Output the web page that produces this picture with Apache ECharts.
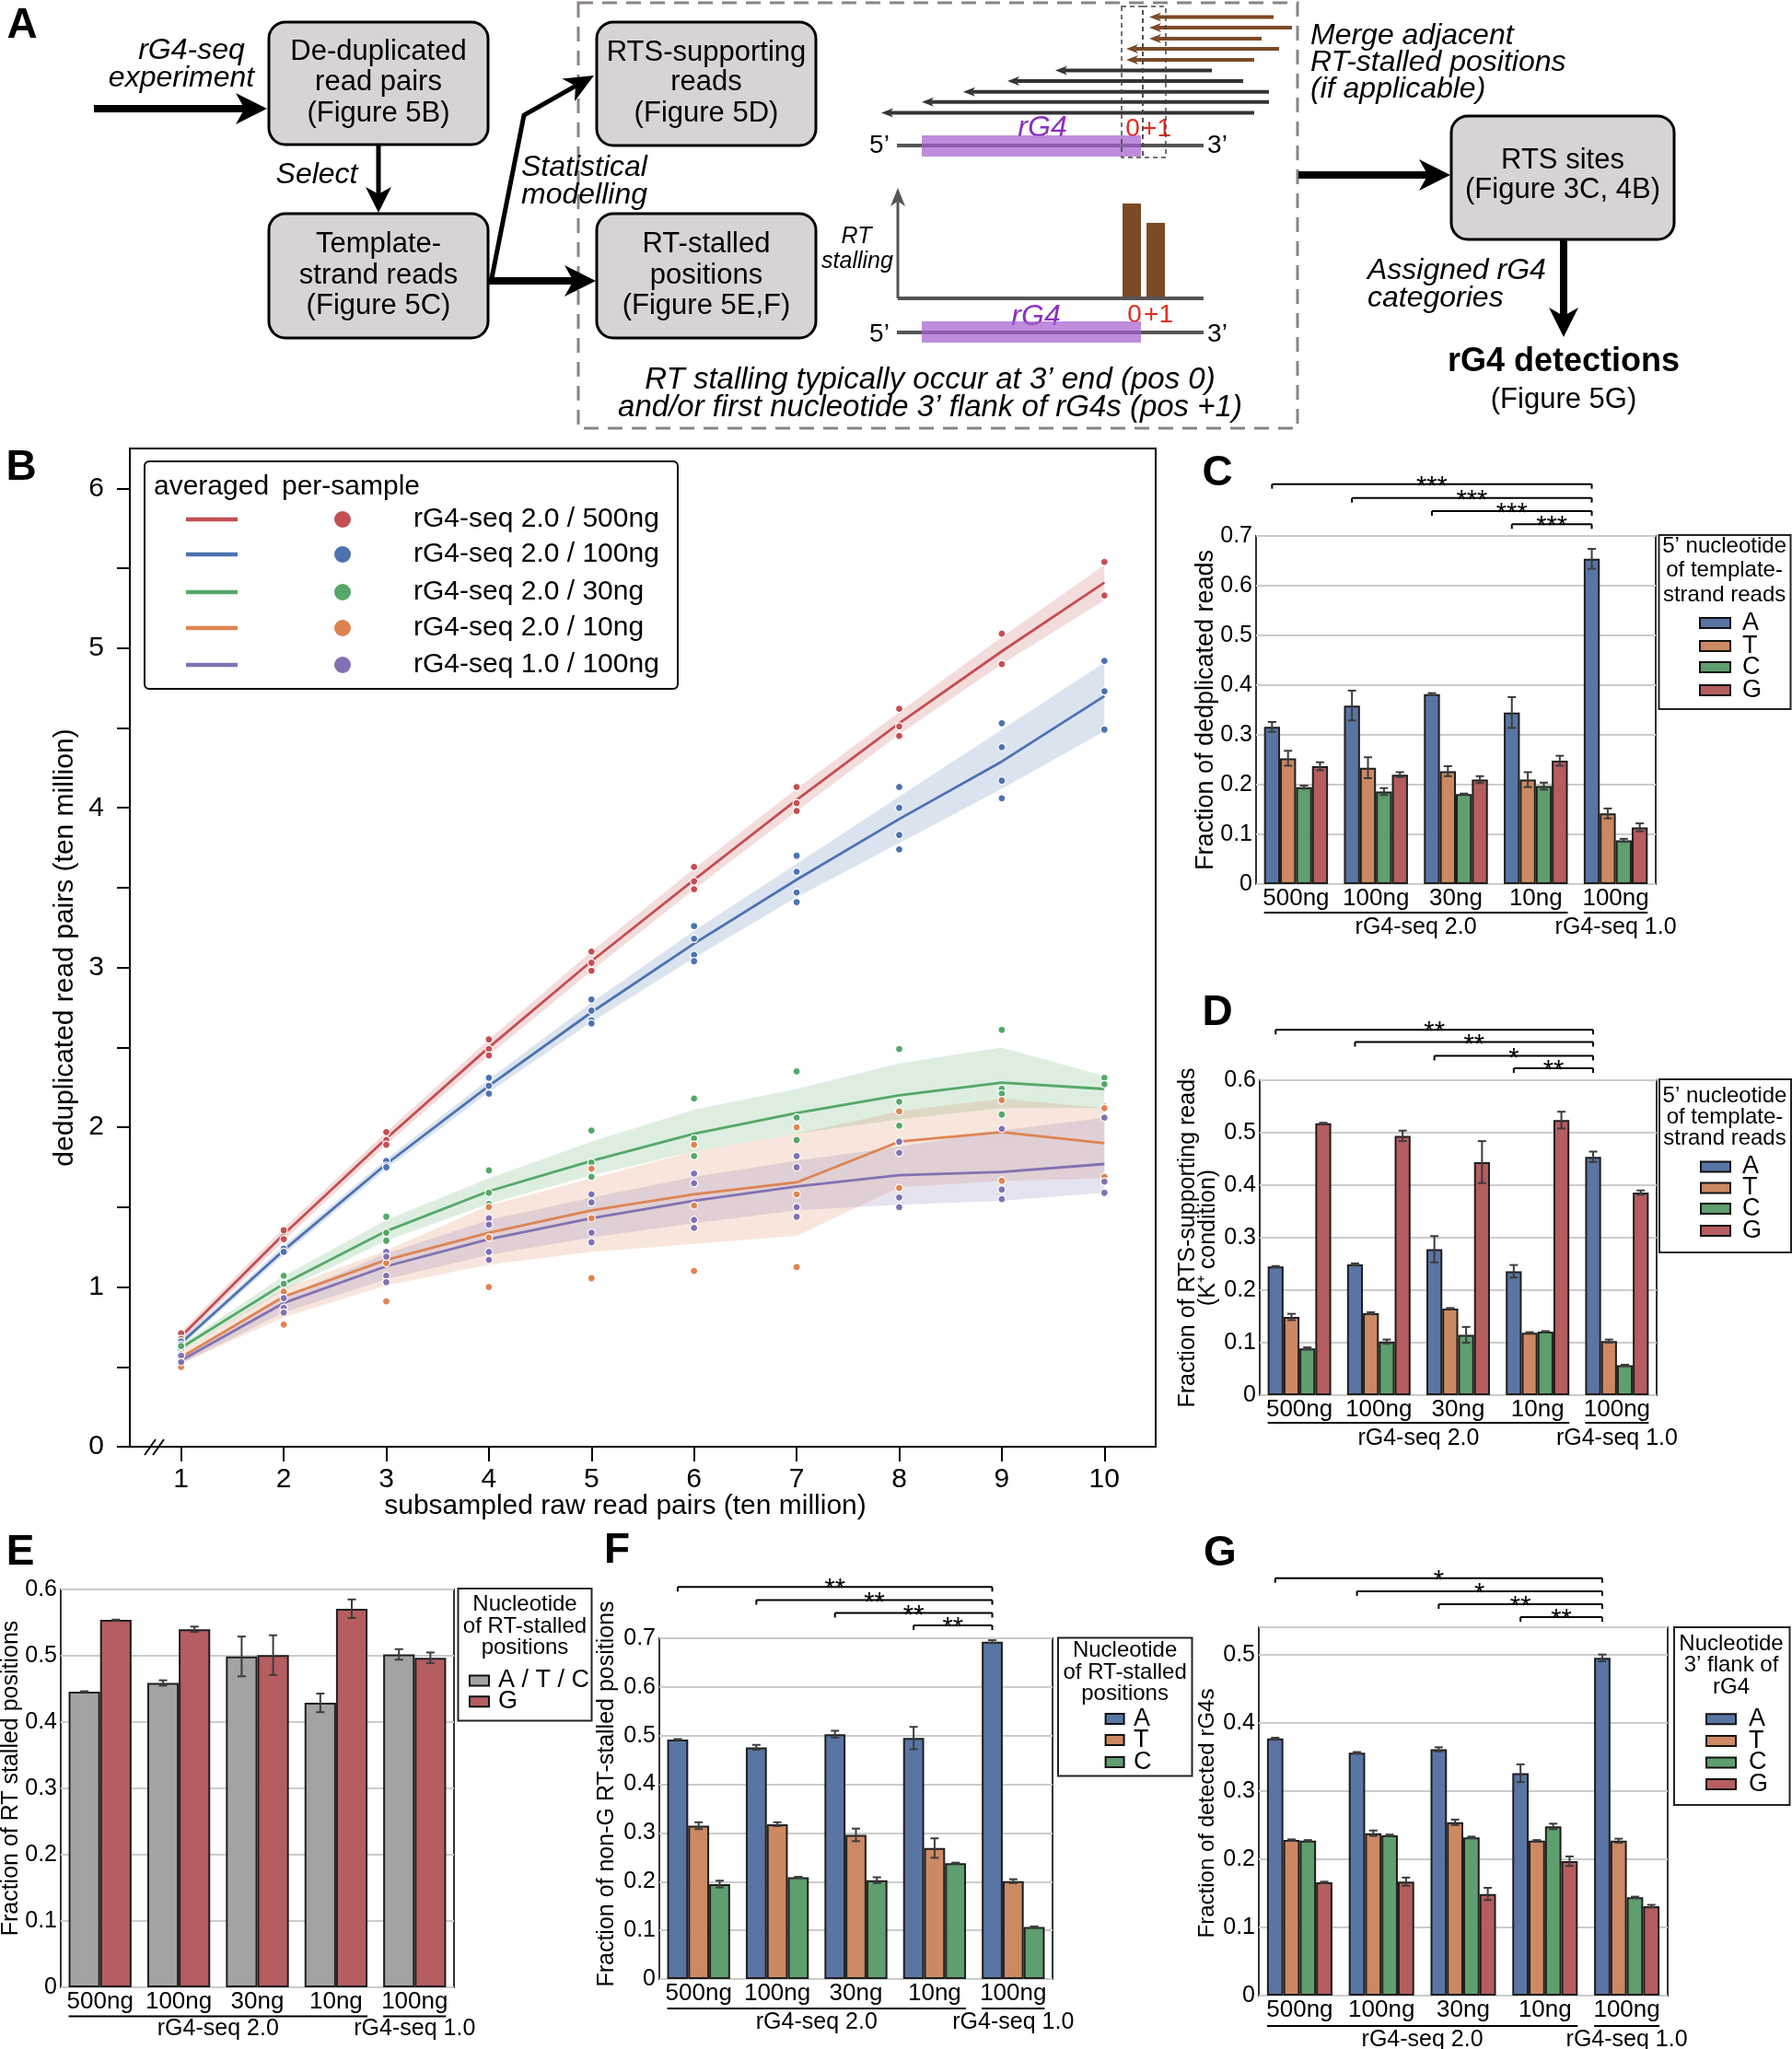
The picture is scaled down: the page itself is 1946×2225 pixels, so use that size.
<!DOCTYPE html>
<html><head><meta charset="utf-8">
<script src="https://cdn.jsdelivr.net/npm/echarts@6/dist/echarts.min.js"></script>
<style>html,body{margin:0;padding:0;background:#fff}#c{width:1946px;height:2225px}</style>
</head><body><div id="c"></div>
<script>
// ================= DATA =================
// Panel B
const bXLabels = ['1','2','3','4','5','6','7','8','9','10'];
const bYTickValues = [0,0.5,1,1.5,2,2.5,3,3.5,4,4.5,5,5.5,6];
const bYLabelValues = [0,1,2,3,4,5,6];
const bNames = ['rG4-seq 2.0 / 500ng','rG4-seq 2.0 / 100ng','rG4-seq 2.0 / 30ng','rG4-seq 2.0 / 10ng','rG4-seq 1.0 / 100ng'];

const b500_mean = [0.69,1.33,1.93,2.50,3.04,3.55,4.05,4.53,4.98,5.41];
const b500_low  = [0.66,1.29,1.89,2.45,2.98,3.49,3.98,4.46,4.90,5.30];
const b500_high = [0.72,1.37,1.97,2.55,3.10,3.62,4.12,4.60,5.07,5.52];
const b500_pts  = [[0.71,0.675],[1.355,1.30],[1.97,1.92,1.89],[2.55,2.49,2.45],[3.10,3.03,2.98],[3.63,3.54,3.49],[4.13,4.03,3.98],[4.62,4.51,4.45],[5.09,4.90],[5.54,5.33]];

const b100_mean = [0.65,1.23,1.77,2.26,2.72,3.15,3.55,3.93,4.29,4.70];
const b100_low  = [0.63,1.20,1.74,2.22,2.66,3.06,3.44,3.78,4.12,4.48];
const b100_high = [0.67,1.26,1.80,2.30,2.78,3.23,3.65,4.07,4.49,4.91];
const b100_pts  = [[0.66,0.64],[1.24,1.22],[1.79,1.76,1.75],[2.31,2.26,2.21],[2.80,2.73,2.67,2.65],[3.26,3.18,3.08,3.04],[3.70,3.60,3.47,3.41],[4.13,4.00,3.83,3.74],[4.53,4.38,4.17,4.06],[4.92,4.73,4.49]];

const b30_mean = [0.62,1.02,1.35,1.60,1.79,1.96,2.09,2.20,2.28,2.24];
const b30_low  = [0.60,0.98,1.29,1.52,1.70,1.85,1.96,2.05,2.12,2.12];
const b30_high = [0.64,1.07,1.42,1.68,1.91,2.11,2.24,2.40,2.50,2.32];
const b30_pts  = [[0.61,0.63],[1.07,1.02],[1.44,1.34,1.29],[1.73,1.59,1.52],[1.98,1.78,1.69],[2.18,1.93,1.82],[2.35,2.06,1.92],[2.49,2.16,2.01],[2.61,2.24,2.21,2.08],[2.31,2.27,2.13]];

const b10_mean = [0.56,0.94,1.17,1.34,1.48,1.58,1.655,1.91,1.97,1.90];
const b10_low  = [0.52,0.81,1.01,1.14,1.22,1.27,1.32,1.625,1.665,1.68];
const b10_high = [0.60,0.99,1.23,1.51,1.68,1.85,1.96,2.10,2.18,2.12];
const b10_pts  = [[0.50,0.58],[0.765,0.97],[0.91,1.15,1.22],[1.00,1.31,1.50],[1.055,1.43,1.74],[1.10,1.51,1.89],[1.125,1.58,2.00],[1.62,2.10],[1.665,2.17],[1.69,2.12]];

const b1_mean = [0.54,0.90,1.13,1.30,1.43,1.54,1.63,1.70,1.72,1.77];
const b1_low  = [0.52,0.84,1.05,1.20,1.31,1.40,1.48,1.515,1.54,1.59];
const b1_high = [0.57,0.94,1.21,1.42,1.56,1.69,1.79,1.88,1.98,2.06];
const b1_pts  = [[0.57,0.53],[0.93,0.87,0.84],[1.22,1.19,1.07,1.03],[1.43,1.39,1.22,1.17],[1.58,1.53,1.34,1.28],[1.71,1.65,1.42,1.37],[1.82,1.75,1.50,1.44],[1.91,1.84,1.56,1.50],[1.99,1.61,1.55],[2.06,1.66,1.59]];

// Bar panels
const groupLabels = ['500ng','100ng','30ng','10ng','100ng'];
const versionLabels = ['rG4-seq 2.0','rG4-seq 1.0'];

const c_A = [0.316,0.359,0.382,0.345,0.654]; const c_A_err = [0.010,0.030,0.002,0.031,0.020];
const c_T = [0.253,0.234,0.227,0.210,0.142]; const c_T_err = [0.015,0.021,0.010,0.015,0.010];
const c_C = [0.195,0.186,0.181,0.197,0.088]; const c_C_err = [0.003,0.007,0.001,0.007,0.003];
const c_G = [0.237,0.220,0.210,0.248,0.114]; const c_G_err = [0.008,0.005,0.007,0.010,0.008];
const c_sig = ['***','***','***','***'];

const d_A = [0.245,0.249,0.278,0.236,0.454]; const d_A_err = [0.001,0.002,0.025,0.012,0.010];
const d_T = [0.149,0.156,0.165,0.119,0.103]; const d_T_err = [0.006,0.002,0.001,0.001,0.003];
const d_C = [0.089,0.102,0.115,0.121,0.057]; const d_C_err = [0.002,0.004,0.015,0.001,0.001];
const d_G = [0.518,0.494,0.444,0.524,0.386]; const d_G_err = [0.001,0.010,0.040,0.016,0.004];
const d_sig = ['**','**','*','**'];

const e_ATC = [0.446,0.459,0.499,0.429,0.502]; const e_ATC_err = [0.0005,0.004,0.030,0.014,0.008];
const e_G   = [0.554,0.540,0.501,0.571,0.497]; const e_G_err   = [0.0005,0.004,0.030,0.014,0.008];

const f_A = [0.492,0.476,0.503,0.495,0.693]; const f_A_err = [0.001,0.005,0.007,0.023,0.003];
const f_T = [0.315,0.318,0.296,0.269,0.201]; const f_T_err = [0.007,0.004,0.013,0.020,0.004];
const f_C = [0.195,0.209,0.203,0.238,0.107]; const f_C_err = [0.007,0.001,0.006,0.001,0.001];
const f_sig = ['**','**','**','**'];

const g_A = [0.377,0.356,0.361,0.326,0.495]; const g_A_err = [0.001,0.001,0.003,0.013,0.005];
const g_T = [0.228,0.238,0.254,0.227,0.227]; const g_T_err = [0.001,0.004,0.004,0.001,0.003];
const g_C = [0.227,0.235,0.232,0.248,0.144]; const g_C_err = [0.001,0.001,0.001,0.004,0.001];
const g_G = [0.166,0.167,0.149,0.197,0.131]; const g_G_err = [0.001,0.006,0.009,0.007,0.002];
const g_sig = ['*','*','**','**'];

// ================= STYLE / LAYOUT =================
const FONT = '"Liberation Sans", Arial, Helvetica, sans-serif';
const colA = '#5975a4', colT = '#cc8963', colC = '#5f9e6e', colG = '#b55d60', colGray = '#a3a3a3';
const lineCols = ['#c44e52','#4c72b0','#55a868','#dd8452','#8172b3'];
const bandCols = ['rgba(196,78,82,0.2)','rgba(76,114,176,0.2)','rgba(85,168,104,0.2)','rgba(221,132,82,0.2)','rgba(129,114,179,0.2)'];

const gB = {left:141, top:487, width:1114, height:1084};
const gC = {left:1364, top:582, width:434, height:378};
const gD = {left:1368, top:1173, width:431, height:342};
const gE = {left:66, top:1726, width:427, height:432};
const gF = {left:716, top:1779, width:427, height:370};
const gG = {left:1367, top:1767, width:444, height:400};

const grids = [], xAxes = [], yAxes = [], series = [], gfx = [];

function txt(text, x, y, o) {
  o = o || {};
  const size = o.size || 25;
  const font = (o.italic ? 'italic ' : '') + (o.bold ? 'bold ' : '') + size + 'px ' + FONT;
  const al = o.align || 'center', va = o.va || 'middle';
  const st = {text: text, fill: o.color || '#000', font: font, textAlign: al, textVerticalAlign: va, align: al, verticalAlign: va};
  if (o.lh) st.lineHeight = o.lh;
  return {type:'text', x: x, y: y, rotation: o.rot || 0, silent: true, z: 50, style: st};
}
function ln(x1, y1, x2, y2, c, w, dash) {
  return {type:'line', silent:true, z:50, shape:{x1:x1,y1:y1,x2:x2,y2:y2}, style:{stroke:c||'#000', lineWidth:w||2, lineDash:dash||null}};
}
function rect(x, y, w, h, o) {
  return {type:'rect', silent:true, z:o.z||49, shape:{x:x,y:y,width:w,height:h,r:o.r||0},
    style:{fill:o.fill===undefined?'none':o.fill, stroke:o.stroke||null, lineWidth:o.lw||0, lineDash:o.dash||null}};
}
function arrow(pts, w, hl, hw, color) {
  const n = pts.length, tip = pts[n-1], prev = pts[n-2];
  const dx = tip[0]-prev[0], dy = tip[1]-prev[1], L = Math.hypot(dx, dy), ux = dx/L, uy = dy/L;
  const base = [tip[0]-ux*hl, tip[1]-uy*hl];
  const notch = [tip[0]-ux*hl*0.72, tip[1]-uy*hl*0.72];
  const shaft = pts.slice(0, n-1).concat([notch]);
  return [
    {type:'polyline', silent:true, z:50, shape:{points:shaft}, style:{stroke:color, lineWidth:w, fill:null, lineJoin:'miter'}},
    {type:'polygon', silent:true, z:51, shape:{points:[tip,[base[0]-uy*hw, base[1]+ux*hw], notch, [base[0]+uy*hw, base[1]-ux*hw]]}, style:{fill:color}}
  ];
}
function push(arr){ arr.forEach(e => gfx.push(e)); }

// ================= PANEL A (schematic) =================
const boxFill = '#d9d4d4';
const IT = 32, BX = 31;
push([txt('A', 24, 28, {size:46, bold:true})]);
push([txt('rG4-seq', 208, 55, {size:IT, italic:true}), txt('experiment', 197, 85, {size:IT, italic:true})]);
push(arrow([[102,118],[290,118]], 8, 34, 17, '#000'));
function box(x, y, w, h, lines, ys) {
  gfx.push(rect(x, y, w, h, {r:18, fill:boxFill, stroke:'#000', lw:3}));
  lines.forEach((t, i) => gfx.push(txt(t, x + w/2, ys[i], {size:BX})));
}
box(292, 24, 238, 133, ['De-duplicated','read pairs','(Figure 5B)'], [56, 89, 123]);
push(arrow([[411,157],[411,231]], 5, 28, 14, '#000'));
push([txt('Select', 344, 190, {size:IT, italic:true})]);
box(292, 232, 238, 135, ['Template-','strand reads','(Figure 5C)'], [265, 299, 332]);
push(arrow([[530,305],[647,305]], 8, 34, 17, '#000'));
push(arrow([[534,302],[569,125],[645,82]], 5, 32, 14, '#000'));
push([txt('Statistical', 566, 182, {size:IT, italic:true, align:'left'}), txt('modelling', 566, 212, {size:IT, italic:true, align:'left'})]);
box(648, 24, 238, 134, ['RTS-supporting','reads','(Figure 5D)'], [57, 89, 123]);
box(648, 232, 238, 135, ['RT-stalled','positions','(Figure 5E,F)'], [265, 299, 332]);
gfx.push(rect(628, 3, 781, 462, {stroke:'#8a8582', lw:3, dash:[16,10]}));

// top diagram: reads
const readsDark = [[1146,1316,76.5],[1094,1350,88],[1046,1378,99.7],[1001,1378,110.7],[957,1362,122.5]];
const readsBrown = [[1248,1383,18.5],[1248,1403,30],[1248,1370,42],[1223,1389,53],[1223,1362,65]];
readsDark.forEach(r => push(arrow([[r[1], r[2]],[r[0], r[2]]], 4, 13, 5, '#333')));
readsBrown.forEach(r => push(arrow([[r[1], r[2]],[r[0], r[2]]], 4, 13, 5, '#7b4a26')));
gfx.push(rect(1218, 7, 23, 164, {stroke:'#444', lw:1.5, dash:[5,4], z:52}));
gfx.push(rect(1241, 7, 25, 164, {stroke:'#444', lw:1.5, dash:[5,4], z:52}));
gfx.push(ln(974, 158, 1307, 158, '#555', 4));
gfx.push(rect(1001, 147, 238, 23, {fill:'rgba(165,95,205,0.72)', z:51}));
push([txt('5’', 955, 158, {size:28}), txt('3’', 1322, 158, {size:28}),
  txt('rG4', 1132, 139, {size:32, italic:true, color:'#8a2ec0'}),
  txt('0', 1230, 140, {size:28, color:'#e42b20'}), txt('+1', 1256, 140, {size:28, color:'#e42b20'})]);
// bottom diagram
push(arrow([[975,324],[975,204]], 3, 20, 8, '#555'));
gfx.push(ln(975, 324, 1307, 324, '#555', 4));
gfx.push(rect(1219, 221, 20, 102, {fill:'#7b4a26'}));
gfx.push(rect(1245, 242, 20, 81, {fill:'#7b4a26'}));
push([txt('RT', 930, 257, {size:25, italic:true}), txt('stalling', 931, 284, {size:25, italic:true})]);
gfx.push(ln(974, 361, 1307, 361, '#555', 4));
gfx.push(rect(1001, 349, 238, 23, {fill:'rgba(165,95,205,0.72)', z:51}));
push([txt('5’', 955, 363, {size:28}), txt('3’', 1322, 363, {size:28}),
  txt('rG4', 1125, 344, {size:32, italic:true, color:'#8a2ec0'}),
  txt('0', 1232, 342, {size:28, color:'#e42b20'}), txt('+1', 1258, 342, {size:28, color:'#e42b20'})]);
push([txt('RT stalling typically occur at 3’ end (pos 0)', 1010, 413, {size:33, italic:true}),
  txt('and/or first nucleotide 3’ flank of rG4s (pos +1)', 1010, 443, {size:33, italic:true})]);
// right side
push([txt('Merge adjacent', 1423, 39, {size:IT, italic:true, align:'left'}),
  txt('RT-stalled positions', 1423, 68, {size:IT, italic:true, align:'left'}),
  txt('(if applicable)', 1423, 97, {size:IT, italic:true, align:'left'})]);
push(arrow([[1410,190],[1575,190]], 8, 34, 17, '#000'));
box(1576, 126, 242, 134, ['RTS sites','(Figure 3C, 4B)'], [174, 206]);
push(arrow([[1698,260],[1698,366]], 8, 32, 16, '#000'));
push([txt('Assigned rG4', 1485, 294, {size:IT, italic:true, align:'left'}),
  txt('categories', 1485, 324, {size:IT, italic:true, align:'left'}),
  txt('rG4 detections', 1698, 393, {size:36, bold:true}),
  txt('(Figure 5G)', 1698, 434, {size:31})]);

// ================= PANEL B =================
grids.push({left:gB.left, top:gB.top, width:gB.width, height:gB.height, show:true, borderColor:'#000', borderWidth:2, backgroundColor:'transparent'});
xAxes.push({gridIndex:0, type:'category', data:bXLabels, boundaryGap:true,
  axisLine:{show:true, lineStyle:{color:'#000', width:2}},
  axisTick:{show:true, alignWithLabel:true, length:16, lineStyle:{color:'#000', width:2}},
  axisLabel:{fontSize:30, color:'#000', margin:21, fontFamily:FONT}, splitLine:{show:false}});
yAxes.push({gridIndex:0, type:'value', min:0, max:6.25, interval:0.5,
  axisLine:{show:true, lineStyle:{color:'#000', width:2}},
  axisTick:{show:true, length:14, lineStyle:{color:'#000', width:2}, customValues:bYTickValues},
  axisLabel:{fontSize:30, color:'#000', margin:28, fontFamily:FONT, customValues:bYLabelValues,
    formatter: v => (Math.abs(v - Math.round(v)) < 1e-6 ? String(Math.round(v)) : '')},
  splitLine:{show:false}});

const bSets = [
  [b500_mean, b500_low, b500_high, b500_pts],
  [b100_mean, b100_low, b100_high, b100_pts],
  [b30_mean, b30_low, b30_high, b30_pts],
  [b10_mean, b10_low, b10_high, b10_pts],
  [b1_mean, b1_low, b1_high, b1_pts]
];
function bandRender(lo, hi, fill) {
  return function(params, api) {
    if (params.dataIndex !== 0) return null;
    const pts = [];
    for (let i = 0; i < hi.length; i++) pts.push(api.coord([i, hi[i]]));
    for (let i = lo.length - 1; i >= 0; i--) pts.push(api.coord([i, lo[i]]));
    return {type:'polygon', shape:{points:pts}, style:{fill:fill}};
  };
}
bSets.forEach((s, k) => {
  series.push({type:'custom', name:bNames[k] + ' CI', xAxisIndex:0, yAxisIndex:0, z:1, silent:true,
    encode:{x:0, y:[1,2]}, data: s[1].map((v, i) => [i, v, s[2][i]]), renderItem: bandRender(s[1], s[2], bandCols[k])});
});
bSets.forEach((s, k) => {
  series.push({type:'line', name:bNames[k], xAxisIndex:0, yAxisIndex:0, z:2, silent:true, data:s[0],
    symbol:'none', showSymbol:false, lineStyle:{color:lineCols[k], width:2.8}, itemStyle:{color:lineCols[k]}});
});
bSets.forEach((s, k) => {
  const d = [];
  s[3].forEach((vals, i) => vals.forEach(v => d.push([i, v])));
  series.push({type:'scatter', name:bNames[k] + ' samples', xAxisIndex:0, yAxisIndex:0, z:3, silent:true, data:d,
    symbol:'circle', symbolSize:8, itemStyle:{color:lineCols[k], borderColor:'#fff', borderWidth:1.2, opacity:1}});
});
// B annotations
push([txt('B', 23, 508, {size:46, bold:true}),
  txt('subsampled raw read pairs (ten million)', 679, 1636, {size:30}),
  txt('deduplicated read pairs (ten million)', 71, 1029, {size:30, rot:Math.PI/2}),
  ln(157, 1580, 169, 1563, '#000', 2), ln(166, 1580, 178, 1563, '#000', 2)]);
// B legend
gfx.push(rect(157, 501, 579, 247, {r:5, fill:'#fff', stroke:'#000', lw:2, z:48}));
push([txt('averaged', 167, 529, {size:30, align:'left'}), txt('per-sample', 306, 529, {size:30, align:'left'})]);
const bLegY = [564, 602, 643, 682, 722];
bNames.forEach((nm, k) => {
  gfx.push(ln(202, bLegY[k], 258, bLegY[k], lineCols[k], 4.5));
  gfx.push({type:'circle', silent:true, z:50, shape:{cx:372, cy:bLegY[k], r:9}, style:{fill:lineCols[k]}});
  gfx.push(txt(nm, 449, bLegY[k], {size:30, align:'left'}));
});

// ================= BAR PANELS =================
function errRender(params, api) {
  const i = api.value(0), lo = api.value(1), hi = api.value(2), k = api.value(3), n = api.value(4);
  const p1 = api.coord([i, lo]), p2 = api.coord([i, hi]);
  const cw = api.size([1, 0])[0];
  const bw = cw * 0.8 / n;
  const x = p1[0] + (k - (n - 1) / 2) * bw;
  const cap = 4.5, st = {stroke:'#3c3c3c', lineWidth:2};
  return {type:'group', children:[
    {type:'line', shape:{x1:x, y1:p1[1], x2:x, y2:p2[1]}, style:st},
    {type:'line', shape:{x1:x-cap, y1:p1[1], x2:x+cap, y2:p1[1]}, style:st},
    {type:'line', shape:{x1:x-cap, y1:p2[1], x2:x+cap, y2:p2[1]}, style:st}
  ]};
}
function barCenter(g, gi, k, n) { const cw = g.width / 5; return g.left + cw * (gi + 0.5) + (k - (n - 1) / 2) * cw * 0.8 / n; }

function barPanel(p) {
  const idx = grids.length, g = p.g, n = p.bars.length;
  grids.push({left:g.left, top:g.top, width:g.width, height:g.height, show:true, borderColor:'#333', borderWidth:2, backgroundColor:'transparent'});
  xAxes.push({gridIndex:idx, type:'category', data:groupLabels, axisLine:{show:false}, axisTick:{show:false},
    axisLabel:{fontSize:26, color:'#000', margin:3, fontFamily:FONT, interval:0}, splitLine:{show:false}});
  yAxes.push({gridIndex:idx, type:'value', min:0, max:p.ymax, interval:0.1, axisLine:{show:false}, axisTick:{show:false},
    axisLabel:{fontSize:25, color:'#000', margin:4, fontFamily:FONT,
      formatter: v => (Math.abs(v*10 - Math.round(v*10)) > 1e-6 ? '' : (Math.abs(v) < 1e-9 ? '0' : (+v).toFixed(1)))},
    splitLine:{show:true, lineStyle:{color:'#cccccc', width:2}}});
  const errRows = [];
  p.bars.forEach((b, k) => {
    series.push({type:'bar', name:b[0], xAxisIndex:idx, yAxisIndex:idx, data:b[1], barGap:'0%', barCategoryGap:'20%', silent:true,
      itemStyle:{color:b[3], borderColor:'#1e1e1e', borderWidth:2}});
    b[1].forEach((v, i) => errRows.push([i, v - b[2][i], v + b[2][i], k, n]));
  });
  series.push({type:'custom', name:'err', xAxisIndex:idx, yAxisIndex:idx, z:5, silent:true, encode:{x:0, y:[1,2]}, data:errRows, renderItem:errRender});
  // significance
  if (p.sig) {
    p.sig.forEach((s, i) => {
      const y = p.sigY[i], x1 = barCenter(g, i, 0, n), x2 = barCenter(g, 4, 0, n);
      gfx.push(ln(x1, y, x2, y, '#000', 2)); gfx.push(ln(x1, y, x1, y + 5, '#000', 2)); gfx.push(ln(x2, y, x2, y + 5, '#000', 2));
      gfx.push(txt(s, (x1 + x2) / 2, y + 3, {size:29}));
    });
  }
  // group underlines
  const cw = g.width / 5, bot = g.top + g.height;
  gfx.push(ln(g.left + cw * 0.1, bot + p.ul, g.left + cw * 3.9, bot + p.ul, '#000', 2));
  gfx.push(ln(g.left + cw * 4.1, bot + p.ul, g.left + cw * 4.9, bot + p.ul, '#000', 2));
  gfx.push(txt(versionLabels[0], g.left + cw * 2, bot + p.gl, {size:25}));
  gfx.push(txt(versionLabels[1], g.left + cw * 4.5, bot + p.gl, {size:25}));
  // y title
  gfx.push(txt(p.ytitle, p.ytx, p.yty !== undefined ? p.yty : g.top + g.height / 2, {size:p.yts || 25, rot:Math.PI/2, lh:22}));
  // panel letter
  gfx.push(txt(p.letter, p.lx, p.ly, {size:46, bold:true}));
  // legend
  const L = p.leg;
  gfx.push(rect(L.x, L.y, L.w, L.h, {fill:'#fff', stroke:'#222', lw:2, z:48}));
  L.title.forEach((t, i) => gfx.push(txt(t, L.cx, L.ty[i], {size:24})));
  p.bars.forEach((b, k) => {
    gfx.push(rect(L.sx, L.iy[k] - 5.5, L.sw, 11, {fill:b[3], stroke:'#111', lw:2, z:50}));
    gfx.push(txt(b[0], L.tx, L.iy[k], {size:27, align:'left'}));
  });
}

barPanel({g:gC, ymax:0.7, letter:'C', lx:1322, ly:514,
  bars:[['A',c_A,c_A_err,colA],['T',c_T,c_T_err,colT],['C',c_C,c_C_err,colC],['G',c_G,c_G_err,colG]],
  sig:c_sig, sigY:[525.7,540.7,555,569.3], ul:31, gl:47,
  ytitle:'Fraction of dedplicated reads', ytx:1310, yts:27,
  leg:{x:1801.5, y:581, w:143, h:189, cx:1872.6, title:['5’ nucleotide','of template-','strand reads'], ty:[593,619,646],
       iy:[676.4,701.4,724.6,749.6], sx:1846, sw:33, tx:1892}});

barPanel({g:gD, ymax:0.6, letter:'D', lx:1322, ly:1100,
  bars:[['A',d_A,d_A_err,colA],['T',d_T,d_T_err,colT],['C',d_C,d_C_err,colC],['G',d_G,d_G_err,colG]],
  sig:d_sig, sigY:[1118.3,1131.5,1146.5,1160], ul:30, gl:47,
  ytitle:'Fraction of RTS-supporting reads\n(K⁺ condition)', ytx:1301, yts:25,
  leg:{x:1802, y:1172, w:143, h:188, cx:1873, title:['5’ nucleotide','of template-','strand reads'], ty:[1190,1213,1236],
       iy:[1267,1290,1312.6,1336.5], sx:1847, sw:32, tx:1892}});

barPanel({g:gE, ymax:0.6, letter:'E', lx:22, ly:1686,
  bars:[['A / T / C',e_ATC,e_ATC_err,colGray],['G',e_G,e_G_err,colG]],
  sig:null, ul:31.5, gl:45.5,
  ytitle:'Fraction of RT stalled positions', ytx:12, yty:1931, yts:25,
  leg:{x:497.5, y:1725, w:145, h:143.6, cx:570, title:['Nucleotide','of RT-stalled','positions'], ty:[1742,1766.5,1789],
       iy:[1825,1847.7], sx:510, sw:21, tx:541}});

barPanel({g:gF, ymax:0.7, letter:'F', lx:670, ly:1684,
  bars:[['A',f_A,f_A_err,colA],['T',f_T,f_T_err,colT],['C',f_C,f_C_err,colC]],
  sig:f_sig, sigY:[1723.3,1737.6,1751.5,1765], ul:32, gl:47.6,
  ytitle:'Fraction of non-G RT-stalled positions', ytx:659, yty:1948, yts:25,
  leg:{x:1149, y:1778.5, w:145.5, h:150, cx:1221.6, title:['Nucleotide','of RT-stalled','positions'], ty:[1792,1816.6,1839.7],
       iy:[1866.4,1889.5,1913.4], sx:1200.6, sw:20, tx:1231}});

barPanel({g:gG, ymax:0.54, letter:'G', lx:1325, ly:1687,
  bars:[['A',g_A,g_A_err,colA],['T',g_T,g_T_err,colT],['C',g_C,g_C_err,colC],['G',g_G,g_G_err,colG]],
  sig:g_sig, sigY:[1713.7,1727.9,1742,1756], ul:33, gl:48,
  ytitle:'Fraction of detected rG4s', ytx:1311, yty:1969, yts:24,
  leg:{x:1818, y:1767, w:125.5, h:193, cx:1880, title:['Nucleotide','3’ flank of','rG4'], ty:[1785,1808.8,1832.4],
       iy:[1866.8,1890.4,1914,1937.6], sx:1853, sw:32, tx:1899}});

// ================= RENDER =================
const chart = echarts.init(document.getElementById('c'), null, {renderer:'canvas'});
chart.setOption({
  animation:false,
  backgroundColor:'#fff',
  textStyle:{fontFamily:FONT},
  grid:grids, xAxis:xAxes, yAxis:yAxes, series:series,
  graphic:{elements:gfx}
});
</script>
</body></html>
